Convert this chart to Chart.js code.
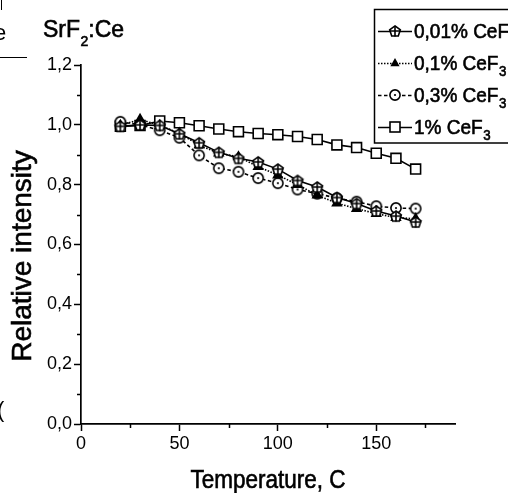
<!DOCTYPE html>
<html>
<head>
<meta charset="utf-8">
<script src="https://cdn.jsdelivr.net/npm/chart.js@4.4.1/dist/chart.umd.min.js"></script>
<style>
  html, body { margin: 0; padding: 0; background: #fff; }
  #wrap { width: 508px; height: 493px; position: relative; overflow: hidden; }
</style>
</head>
<body>
<div id="wrap"><canvas id="chart" width="508" height="493"></canvas></div>
<script>
const temperatures = [20, 30, 40, 50, 60, 70, 80, 90, 100, 110, 120, 130, 140, 150, 160, 170];
const ce001 = [0.995, 1.0, 0.998, 0.97, 0.94, 0.908, 0.888, 0.876, 0.852, 0.814, 0.792, 0.757, 0.737, 0.712, 0.695, 0.675];
const ce01 = [0.998, 1.018, 0.998, 0.972, 0.932, 0.905, 0.893, 0.86, 0.832, 0.8, 0.765, 0.738, 0.72, 0.703, 0.69, 0.686];
const ce03 = [1.01, 1.0, 0.982, 0.957, 0.898, 0.855, 0.843, 0.822, 0.805, 0.784, 0.77, 0.755, 0.743, 0.728, 0.722, 0.72];
const ce1 = [0.995, 0.998, 1.013, 1.007, 0.997, 0.986, 0.977, 0.971, 0.967, 0.961, 0.951, 0.933, 0.924, 0.905, 0.888, 0.852];

const seriesLabels = ['0,01% CeF', '0,1% CeF', '0,3% CeF', '1% CeF'];
const xTicks = [0, 50, 100, 150];
const xMinorTicks = [25, 75, 125, 175];
const yTicks = [0, 0.2, 0.4, 0.6, 0.8, 1.0, 1.2];
const yMinorTicks = [0.1, 0.3, 0.5, 0.7, 0.9, 1.1];

const SANS = "'Liberation Sans', Arial, sans-serif";

function makeMarker(draw) {
  const c = document.createElement('canvas');
  c.width = 14;
  c.height = 14;
  const ctx = c.getContext('2d');
  ctx.lineWidth = 1.6;
  ctx.strokeStyle = '#000';
  ctx.fillStyle = '#fff';
  draw(ctx);
  return c;
}

// open pentagon with a cross inside
const pentagonMarker = makeMarker(ctx => {
  ctx.beginPath();
  for (let i = 0; i < 5; i++) {
    const a = -Math.PI / 2 + i * 2 * Math.PI / 5;
    const px = 7 + Math.cos(a) * 5.6;
    const py = 7.5 + Math.sin(a) * 5.6;
    if (i === 0) ctx.moveTo(px, py); else ctx.lineTo(px, py);
  }
  ctx.closePath();
  ctx.fill();
  ctx.stroke();
  ctx.beginPath();
  ctx.moveTo(7, 2); ctx.lineTo(7, 12.5);
  ctx.moveTo(1.8, 7); ctx.lineTo(12.2, 7);
  ctx.stroke();
});

// open circle with a dot
const dotCircleMarker = makeMarker(ctx => {
  ctx.beginPath();
  ctx.arc(7, 7, 5.1, 0, Math.PI * 2);
  ctx.fill();
  ctx.stroke();
  ctx.fillStyle = '#000';
  ctx.beginPath();
  ctx.arc(7, 7, 1.1, 0, Math.PI * 2);
  ctx.fill();
});

const toPoints = values => temperatures.map((t, i) => ({ x: t, y: values[i] }));

const lineStyles = [
  { dash: [], marker: pentagonMarker },
  { dash: [1.5, 1.5], marker: 'triangle' },
  { dash: [3.5, 2.5], marker: dotCircleMarker },
  { dash: [], marker: 'rect' },
];

function drawLegendMarker(ctx, style, x, y) {
  if (typeof style !== 'string') {
    ctx.drawImage(style, x - style.width / 2, y - style.height / 2);
    return;
  }
  ctx.save();
  ctx.lineWidth = 1.6;
  ctx.strokeStyle = '#000';
  if (style === 'triangle') {
    ctx.fillStyle = '#000';
    ctx.beginPath();
    ctx.moveTo(x, y - 5);
    ctx.lineTo(x + 4.6, y + 3.2);
    ctx.lineTo(x - 4.6, y + 3.2);
    ctx.closePath();
    ctx.fill();
  } else {
    ctx.fillStyle = '#fff';
    ctx.fillRect(x - 5, y - 5, 10, 10);
    ctx.strokeRect(x - 5, y - 5, 10, 10);
  }
  ctx.restore();
}

// text squeezed horizontally by sx and slightly thickened like the scan
function squeezed(ctx, text, x, y, size, sx) {
  ctx.save();
  ctx.font = size + 'px ' + SANS;
  ctx.translate(x, y);
  ctx.scale(sx, 1);
  ctx.lineWidth = 0.6;
  ctx.fillText(text, 0, 0);
  ctx.strokeText(text, 0, 0);
  const w = ctx.measureText(text).width * sx;
  ctx.restore();
  return w;
}

function textWithSub(ctx, main, sub, x, y, size, subSize, drop, sx) {
  const w = squeezed(ctx, main, x, y, size, sx);
  const ws = squeezed(ctx, sub, x + w + 0.5, y + drop, subSize, sx);
  return x + w + 0.5 + ws;
}

const paperText = {
  id: 'paperText',
  afterDraw(chart) {
    const ctx = chart.ctx;
    const { x, y } = chart.scales;
    ctx.save();
    ctx.fillStyle = '#000';
    ctx.strokeStyle = '#000';

    // minor ticks
    ctx.lineWidth = 1.5;
    ctx.beginPath();
    xMinorTicks.forEach(v => {
      const px = Math.round(x.getPixelForValue(v)) + 0.5;
      ctx.moveTo(px, y.bottom);
      ctx.lineTo(px, y.bottom + 4);
    });
    yMinorTicks.forEach(v => {
      const py = Math.round(y.getPixelForValue(v)) + 0.5;
      ctx.moveTo(x.left, py);
      ctx.lineTo(x.left - 4, py);
    });
    ctx.stroke();

    // title
    ctx.textBaseline = 'alphabetic';
    ctx.textAlign = 'left';
    const after = textWithSub(ctx, 'SrF', '2', 43, 37, 23, 14, 9, 1);
    squeezed(ctx, ':Ce', after, 37, 23, 1);

    // axis titles
    ctx.textAlign = 'center';
    squeezed(ctx, 'Temperature, C', (x.left + x.right) / 2, 488, 25, 0.9);
    ctx.save();
    ctx.translate(31, 256);
    ctx.rotate(-Math.PI / 2);
    squeezed(ctx, 'Relative intensity', 0, 0, 28, 1);
    ctx.restore();

    // legend box
    ctx.fillStyle = '#fff';
    ctx.fillRect(374, 9, 140, 134);
    ctx.lineWidth = 1.5;
    ctx.strokeRect(374.5, 9.5, 140, 133.5);
    ctx.fillStyle = '#000';
    ctx.textAlign = 'left';
    const rowY = [31, 63, 95, 127];
    seriesLabels.forEach((label, i) => {
      const ly = rowY[i];
      ctx.save();
      ctx.lineWidth = 1.5;
      ctx.setLineDash(lineStyles[i].dash);
      ctx.beginPath();
      ctx.moveTo(378, ly + 0.5);
      ctx.lineTo(412, ly + 0.5);
      ctx.stroke();
      ctx.restore();
      drawLegendMarker(ctx, lineStyles[i].marker, 395, ly);
      textWithSub(ctx, label, '3', 414, ly + 7, 20, 14, 6, 0.95);
    });

    // fragments of the neighbouring figure
    ctx.font = '22px ' + SANS;
    ctx.fillText('e', -6, 40);
    ctx.fillText('(', -3, 417);
    ctx.lineWidth = 1;
    ctx.beginPath();
    ctx.moveTo(0, 57.5);
    ctx.lineTo(27, 57.5);
    ctx.moveTo(1.5, 0);
    ctx.lineTo(1.5, 10);
    ctx.stroke();
    ctx.restore();
  },
};

const tickFont = { family: SANS, size: 18 };

new Chart(document.getElementById('chart'), {
  type: 'line',
  data: {
    datasets: [ce001, ce01, ce03, ce1].map((values, i) => ({
      label: seriesLabels[i] + '3',
      data: toPoints(values),
      borderColor: '#000',
      borderWidth: 1.6,
      borderDash: lineStyles[i].dash,
      backgroundColor: lineStyles[i].marker === 'triangle' ? '#000' : '#fff',
      pointStyle: lineStyles[i].marker,
      pointRadius: lineStyles[i].marker === 'rect' ? 7 : 5,
      pointBorderWidth: 1.6,
      pointBorderColor: '#000',
      pointBackgroundColor: lineStyles[i].marker === 'triangle' ? '#000' : '#fff',
      tension: 0,
      clip: false,
    })),
  },
  options: {
    responsive: false,
    devicePixelRatio: 1,
    animation: false,
    layout: { padding: { top: 65, right: 53, bottom: 0, left: 0 } },
    plugins: {
      legend: { display: false },
      tooltip: { enabled: false },
    },
    scales: {
      x: {
        type: 'linear',
        min: 0,
        max: 190,
        afterFit(scale) { scale.height = 69; },
        afterBuildTicks(scale) { scale.ticks = xTicks.map(v => ({ value: v })); },
        ticks: {
          color: '#000',
          font: tickFont,
          padding: 2,
          maxRotation: 0,
          autoSkip: false,
          callback: v => String(v),
        },
        grid: { drawOnChartArea: false, drawTicks: true, tickLength: 7, tickColor: '#000', tickWidth: 1.5 },
        border: { display: true, color: '#000', width: 1.7 },
      },
      y: {
        min: 0,
        max: 1.2,
        afterFit(scale) { scale.width = 81; },
        afterBuildTicks(scale) { scale.ticks = yTicks.map(v => ({ value: v })); },
        ticks: {
          color: '#000',
          font: tickFont,
          padding: 2,
          autoSkip: false,
          callback: v => v.toFixed(1).replace('.', ','),
        },
        grid: { drawOnChartArea: false, drawTicks: true, tickLength: 7, tickColor: '#000', tickWidth: 1.5 },
        border: { display: true, color: '#000', width: 1.7 },
      },
    },
  },
  plugins: [paperText],
});
</script>
</body>
</html>
